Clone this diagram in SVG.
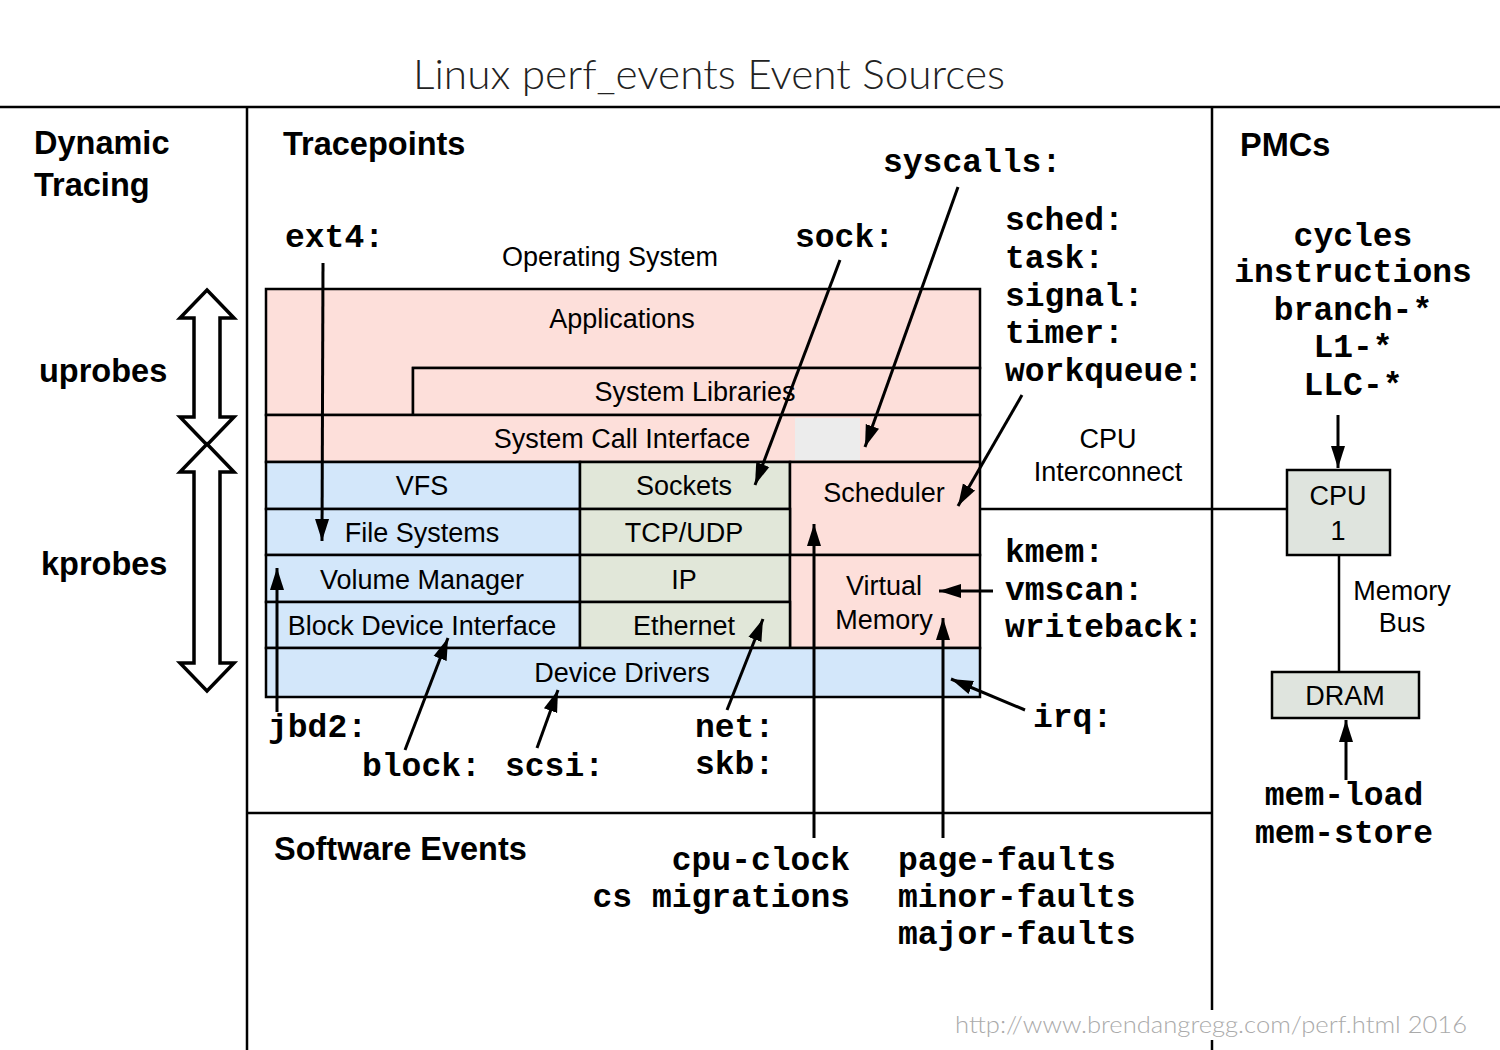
<svg xmlns="http://www.w3.org/2000/svg" width="1500" height="1050" viewBox="0 0 1500 1050">
<defs>
<style>
.lbl{font-family:"Liberation Sans",Arial,sans-serif;font-size:27px;fill:#000;text-anchor:middle}
.hd{font-family:"Liberation Sans",Arial,sans-serif;font-size:32.5px;font-weight:bold;fill:#000}
.mono{font-family:"Liberation Mono","Courier New",monospace;font-size:33px;font-weight:bold;fill:#000}
.box{stroke:#000;stroke-width:2.5}
.pink{fill:#fddfda}
.blue{fill:#d3e7fa}
.green{fill:#e1e7d9}
.grey{fill:#dfe4de}
.ln{stroke:#000;stroke-width:2.5;fill:none}
.arr{stroke:#000;stroke-width:3;fill:none;marker-end:url(#ah)}
.dbl{fill:#fff;stroke:#000;stroke-width:3.5;stroke-linejoin:miter}
</style>
<marker id="ah" markerUnits="userSpaceOnUse" markerWidth="24" markerHeight="16" refX="22" refY="8" orient="auto">
<path d="M0,1 L22,8 L0,15 Z" fill="#000"/>
</marker>
</defs>
<rect width="1500" height="1050" fill="#fff"/>

<g id="title">
<text x="709" y="89" font-family="Lato, 'Liberation Sans', Arial, sans-serif" font-weight="300" font-size="42" fill="#222" text-anchor="middle" textLength="592" lengthAdjust="spacingAndGlyphs">Linux perf_events Event Sources</text>
</g>

<g id="frame">
<line x1="0" y1="107" x2="1500" y2="107" class="ln" stroke-width="2"/>
<line x1="247" y1="107" x2="247" y2="1050" class="ln"/>
<line x1="1212" y1="107" x2="1212" y2="1010" class="ln"/>
<line x1="1212" y1="1040" x2="1212" y2="1050" class="ln"/>
<line x1="247" y1="813" x2="1212" y2="813" class="ln"/>
</g>

<g id="headings">
<text class="hd" x="34" y="154">Dynamic</text>
<text class="hd" x="34" y="196">Tracing</text>
<text class="hd" x="283" y="155">Tracepoints</text>
<text class="hd" x="1240" y="156">PMCs</text>
<text class="hd" x="39" y="382">uprobes</text>
<text class="hd" x="41" y="575">kprobes</text>
<text class="hd" x="274" y="860">Software Events</text>
<text class="lbl" x="610" y="266">Operating System</text>
<text class="lbl" x="1108" y="448">CPU</text>
<text class="lbl" x="1108" y="481">Interconnect</text>
<text class="lbl" x="1402" y="600">Memory</text>
<text class="lbl" x="1402" y="632">Bus</text>
</g>

<g id="probe-arrows">
<path class="dbl" d="M207,290 L234,318 L220,318 L220,417 L234,417 L207,445 L180,417 L194,417 L194,318 L180,318 Z"/>
<path class="dbl" d="M207,444 L234,472 L220,472 L220,663 L234,663 L207,691 L180,663 L194,663 L194,472 L180,472 Z"/>
</g>

<g id="os">
<path id="applications" class="box pink" d="M266,289 L980,289 L980,368 L413,368 L413,415 L266,415 Z"/>
<text class="lbl" x="622" y="328">Applications</text>
<g id="system-libraries"><rect class="box pink" x="413" y="368" width="567" height="47"/><text class="lbl" x="695" y="401">System Libraries</text></g>
<g id="syscall-interface"><rect class="box pink" x="266" y="415" width="714" height="47"/><rect x="795" y="418" width="65" height="42" fill="#ececec"/><text class="lbl" x="622" y="448">System Call Interface</text></g>
<g id="vfs"><rect class="box blue" x="266" y="462" width="314" height="47"/><text class="lbl" x="422" y="495">VFS</text></g>
<g id="sockets"><rect class="box green" x="580" y="462" width="210" height="47"/><text class="lbl" x="684" y="495">Sockets</text></g>
<g id="scheduler"><rect class="box pink" x="790" y="462" width="190" height="93"/><text class="lbl" x="884" y="502">Scheduler</text></g>
<g id="file-systems"><rect class="box blue" x="266" y="509" width="314" height="46"/><text class="lbl" x="422" y="542">File Systems</text></g>
<g id="tcp-udp"><rect class="box green" x="580" y="509" width="210" height="46"/><text class="lbl" x="684" y="542">TCP/UDP</text></g>
<g id="volume-manager"><rect class="box blue" x="266" y="555" width="314" height="47"/><text class="lbl" x="422" y="589">Volume Manager</text></g>
<g id="ip"><rect class="box green" x="580" y="555" width="210" height="47"/><text class="lbl" x="684" y="589">IP</text></g>
<g id="virtual-memory"><rect class="box pink" x="790" y="555" width="190" height="93"/><text class="lbl" x="884" y="595">Virtual</text><text class="lbl" x="884" y="629">Memory</text></g>
<g id="block-device-interface"><rect class="box blue" x="266" y="602" width="314" height="46"/><text class="lbl" x="422" y="635">Block Device Interface</text></g>
<g id="ethernet"><rect class="box green" x="580" y="602" width="210" height="46"/><text class="lbl" x="684" y="635">Ethernet</text></g>
<g id="device-drivers"><rect class="box blue" x="266" y="648" width="714" height="49"/><text class="lbl" x="622" y="682">Device Drivers</text></g>
</g>

<g id="cpu"><rect class="box grey" x="1287" y="470" width="103" height="85"/><text class="lbl" x="1338" y="505">CPU</text><text class="lbl" x="1338" y="540">1</text></g>
<g id="dram"><rect class="box grey" x="1272" y="672" width="147" height="46"/><text class="lbl" x="1345" y="705">DRAM</text></g>

<g id="tracepoint-labels">
<text class="mono" x="285" y="247">ext4:</text>
<text class="mono" x="795" y="247">sock:</text>
<text class="mono" x="883" y="172">syscalls:</text>
<text class="mono" x="1005" y="230">sched:</text>
<text class="mono" x="1005" y="268">task:</text>
<text class="mono" x="1005" y="306">signal:</text>
<text class="mono" x="1005" y="343">timer:</text>
<text class="mono" x="1005" y="381">workqueue:</text>
<text class="mono" x="1005" y="562">kmem:</text>
<text class="mono" x="1005" y="600">vmscan:</text>
<text class="mono" x="1005" y="637">writeback:</text>
<text class="mono" x="1033" y="727">irq:</text>
<text class="mono" x="268" y="737">jbd2:</text>
<text class="mono" x="362" y="776">block:</text>
<text class="mono" x="505" y="776">scsi:</text>
<text class="mono" x="695" y="737">net:</text>
<text class="mono" x="695" y="774">skb:</text>
</g>

<g id="software-event-labels">
<text class="mono" x="850" y="870" text-anchor="end">cpu-clock</text>
<text class="mono" x="850" y="907" text-anchor="end">cs migrations</text>
<text class="mono" x="898" y="870">page-faults</text>
<text class="mono" x="898" y="907">minor-faults</text>
<text class="mono" x="898" y="944">major-faults</text>
</g>

<g id="pmc-labels">
<text class="mono" x="1353" y="246" text-anchor="middle">cycles</text>
<text class="mono" x="1353" y="282" text-anchor="middle">instructions</text>
<text class="mono" x="1353" y="320" text-anchor="middle">branch-*</text>
<text class="mono" x="1353" y="357" text-anchor="middle">L1-*</text>
<text class="mono" x="1353" y="395" text-anchor="middle">LLC-*</text>
<text class="mono" x="1344" y="805" text-anchor="middle">mem-load</text>
<text class="mono" x="1344" y="843" text-anchor="middle">mem-store</text>
</g>

<g id="connectors">
<line class="ln" x1="980" y1="509" x2="1287" y2="509"/>
<line class="ln" x1="1339" y1="555" x2="1339" y2="672"/>
<line class="arr" x1="323" y1="263" x2="322" y2="541"/>
<line class="arr" x1="840" y1="260" x2="755" y2="485"/>
<line class="arr" x1="958" y1="187" x2="865" y2="447"/>
<line class="arr" x1="1022" y1="395" x2="958" y2="506"/>
<line class="arr" x1="993" y1="591" x2="939" y2="591"/>
<line class="arr" x1="1025" y1="710" x2="951" y2="679"/>
<line class="arr" x1="277" y1="712" x2="277" y2="568"/>
<line class="arr" x1="405" y1="750" x2="448" y2="638"/>
<line class="arr" x1="537" y1="748" x2="558" y2="690"/>
<line class="arr" x1="727" y1="710" x2="763" y2="619"/>
<line class="arr" x1="814" y1="838" x2="814" y2="524"/>
<line class="arr" x1="943" y1="838" x2="943" y2="618"/>
<line class="arr" x1="1338" y1="415" x2="1338" y2="468"/>
<line class="arr" x1="1346" y1="780" x2="1346" y2="720"/>
</g>

<g id="credit">
<text x="955" y="1033" font-family="Lato, 'Liberation Sans', Arial, sans-serif" font-weight="300" font-size="24" fill="#aaa" textLength="512" lengthAdjust="spacingAndGlyphs">http://www.brendangregg.com/perf.html 2016</text>
</g>
</svg>
